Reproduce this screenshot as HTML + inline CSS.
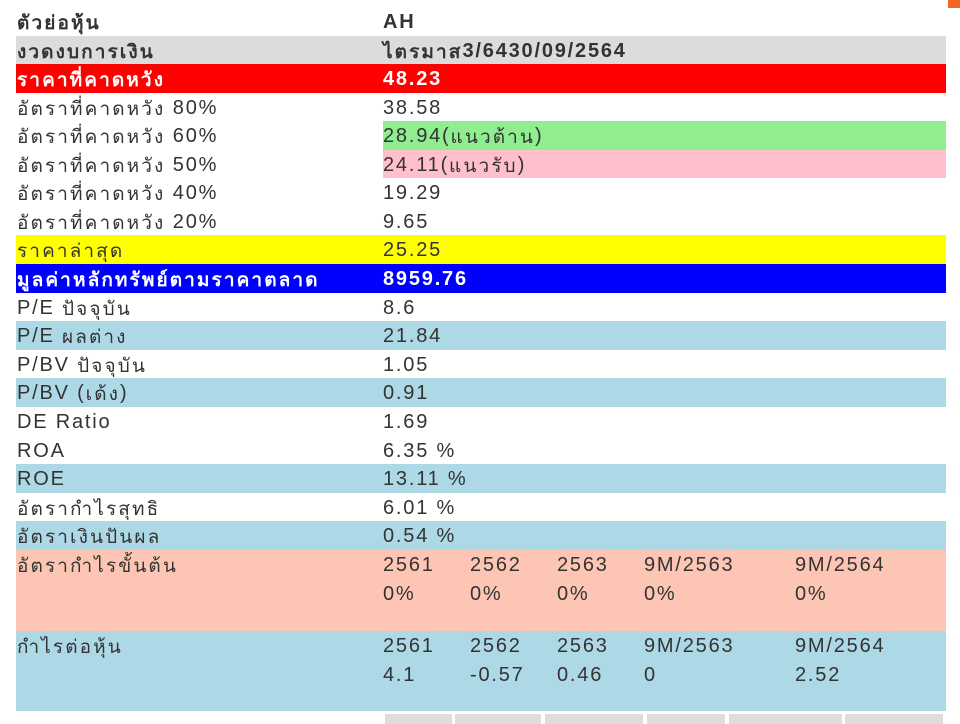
<!DOCTYPE html>
<html><head><meta charset="utf-8"><style>
body{margin:0;width:960px;height:720px;background:#fff;position:relative;overflow:hidden;font-family:"Liberation Sans","Noto Sans CJK SC",sans-serif;font-size:20px;letter-spacing:1.8px;color:#333}
.r{position:absolute;left:16px;width:930px;}
.l{position:absolute;left:1px;top:4px;white-space:nowrap;line-height:22px}
.v{position:absolute;left:367px;top:4px;white-space:nowrap;line-height:22px}
.vb{position:absolute;left:367px;top:0;right:0;bottom:0}
.b{font-weight:bold}
.s{position:absolute;white-space:nowrap}
.t{font-style:normal;font-size:19px;letter-spacing:2.1px;position:relative;top:1px}
.g{position:absolute;top:714px;height:10px;background:#ddd}
</style></head><body>
<div style="position:absolute;left:948px;top:0;width:12px;height:8px;background:#f26522"></div>
<div class="r b" style="top:7px;height:29px"><span class="l"><i class="t">ตัวย่อหุ้น</i></span><span class="v">AH</span></div>
<div class="r b" style="top:36px;height:28px;background:#dcdcdc"><span class="l"><i class="t">งวดงบการเงิน</i></span><span class="v"><i class="t">ไตรมาส</i>3/6430/09/2564</span></div>
<div class="r b" style="top:64px;height:29px;background:#f00;color:#fff"><span class="l"><i class="t">ราคาที่คาดหวัง</i></span><span class="v">48.23</span></div>
<div class="r" style="top:93px;height:28px"><span class="l"><i class="t">อัตราที่คาดหวัง</i> 80%</span><span class="v">38.58</span></div>
<div class="r" style="top:121px;height:29px"><div class="vb" style="background:#90ee90"></div><span class="l"><i class="t">อัตราที่คาดหวัง</i> 60%</span><span class="v">28.94(<i class="t">แนวต้าน</i>)</span></div>
<div class="r" style="top:150px;height:28px"><div class="vb" style="background:#ffc0cb"></div><span class="l"><i class="t">อัตราที่คาดหวัง</i> 50%</span><span class="v">24.11(<i class="t">แนวรับ</i>)</span></div>
<div class="r" style="top:178px;height:29px"><span class="l"><i class="t">อัตราที่คาดหวัง</i> 40%</span><span class="v">19.29</span></div>
<div class="r" style="top:207px;height:28px"><span class="l"><i class="t">อัตราที่คาดหวัง</i> 20%</span><span class="v">9.65</span></div>
<div class="r" style="top:235px;height:29px;background:#ff0"><span class="l"><i class="t">ราคาล่าสุด</i></span><span class="v">25.25</span></div>
<div class="r b" style="top:264px;height:29px;background:#00f;color:#fff"><span class="l"><i class="t">มูลค่าหลักทรัพย์ตามราคาตลาด</i></span><span class="v">8959.76</span></div>
<div class="r" style="top:293px;height:28px"><span class="l">P/E <i class="t">ปัจจุบัน</i></span><span class="v">8.6</span></div>
<div class="r" style="top:321px;height:29px;background:#add8e6"><span class="l">P/E <i class="t">ผลต่าง</i></span><span class="v">21.84</span></div>
<div class="r" style="top:350px;height:28px"><span class="l">P/BV <i class="t">ปัจจุบัน</i></span><span class="v">1.05</span></div>
<div class="r" style="top:378px;height:29px;background:#add8e6"><span class="l">P/BV (<i class="t">เด้ง</i>)</span><span class="v">0.91</span></div>
<div class="r" style="top:407px;height:29px"><span class="l">DE Ratio</span><span class="v">1.69</span></div>
<div class="r" style="top:436px;height:28px"><span class="l">ROA</span><span class="v">6.35 %</span></div>
<div class="r" style="top:464px;height:29px;background:#add8e6"><span class="l">ROE</span><span class="v">13.11 %</span></div>
<div class="r" style="top:493px;height:28px"><span class="l"><i class="t">อัตรากำไรสุทธิ</i></span><span class="v">6.01 %</span></div>
<div class="r" style="top:521px;height:29px;background:#add8e6"><span class="l"><i class="t">อัตราเงินปันผล</i></span><span class="v">0.54 %</span></div>
<div class="r" style="top:550px;height:81px;background:#fdc6b4"><span class="l"><i class="t">อัตรากำไรขั้นต้น</i></span>
<span class="s" style="left:367px;top:4px">2561</span><span class="s" style="left:454px;top:4px">2562</span><span class="s" style="left:541px;top:4px">2563</span><span class="s" style="left:628px;top:4px">9M/2563</span><span class="s" style="left:779px;top:4px">9M/2564</span>
<span class="s" style="left:367px;top:33px">0%</span><span class="s" style="left:454px;top:33px">0%</span><span class="s" style="left:541px;top:33px">0%</span><span class="s" style="left:628px;top:33px">0%</span><span class="s" style="left:779px;top:33px">0%</span></div>
<div class="r" style="top:631px;height:80px;background:#add8e6"><span class="l"><i class="t">กำไรต่อหุ้น</i></span>
<span class="s" style="left:367px;top:4px">2561</span><span class="s" style="left:454px;top:4px">2562</span><span class="s" style="left:541px;top:4px">2563</span><span class="s" style="left:628px;top:4px">9M/2563</span><span class="s" style="left:779px;top:4px">9M/2564</span>
<span class="s" style="left:367px;top:33px">4.1</span><span class="s" style="left:454px;top:33px">-0.57</span><span class="s" style="left:541px;top:33px">0.46</span><span class="s" style="left:628px;top:33px">0</span><span class="s" style="left:779px;top:33px">2.52</span></div>
<div class="g" style="left:385px;width:67px"></div><div class="g" style="left:455px;width:86px"></div><div class="g" style="left:545px;width:98px"></div><div class="g" style="left:647px;width:78px"></div><div class="g" style="left:729px;width:113px"></div><div class="g" style="left:845px;width:98px"></div>
</body></html>
